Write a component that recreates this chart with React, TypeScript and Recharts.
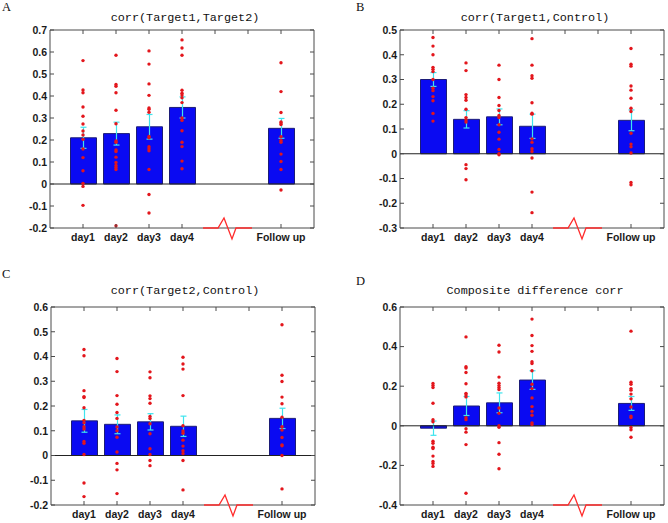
import React from "react";
import {
  Bar,
  ComposedChart,
  ErrorBar,
  ReferenceArea,
  ReferenceLine,
  Scatter,
  XAxis,
  YAxis,
} from "recharts";

// x positions of the groups (5 and 6 are the gap before follow up)
const POSITIONS = [1, 2, 3, 4, 7];
const X_TICKS = [1, 2, 3, 4, 5, 6, 7];
const X_LABELS: Record<number, string> = {
  1: "day1",
  2: "day2",
  3: "day3",
  4: "day4",
  7: "Follow up",
};

// A: corr(Target1,Target2)
const aMeans = [0.21, 0.229, 0.26, 0.348, 0.253];
const aSems = [0.048, 0.052, 0.056, 0.048, 0.045];
const aDots = [
  [0.561, 0.427, 0.415, 0.35, 0.308, 0.273, 0.241, 0.223, 0.203, 0.159, 0.12, 0.06, 0.003, -0.011, -0.097],
  [0.585, 0.452, 0.444, 0.415, 0.335, 0.274, 0.196, 0.19, 0.155, 0.148, 0.122, 0.098, 0.084, 0.075, 0.066, -0.19],
  [0.605, 0.545, 0.455, 0.403, 0.346, 0.34, 0.326, 0.216, 0.21, 0.169, 0.16, 0.151, 0.066, -0.048, -0.132],
  [0.655, 0.618, 0.585, 0.426, 0.413, 0.404, 0.392, 0.37, 0.3, 0.289, 0.242, 0.19, 0.17, 0.104, 0.069],
  [0.551, 0.42, 0.325, 0.282, 0.277, 0.27, 0.215, 0.198, 0.19, 0.136, 0.102, 0.066, -0.027],
];
const aTicks = [-0.2, -0.1, 0, 0.1, 0.2, 0.3, 0.4, 0.5, 0.6, 0.7];

// B: corr(Target1,Control)
const bMeans = [0.3, 0.139, 0.149, 0.111, 0.135];
const bSems = [0.028, 0.035, 0.032, 0.049, 0.042];
const bDots = [
  [0.47, 0.435, 0.4, 0.349, 0.341, 0.332, 0.3, 0.265, 0.255, 0.231, 0.214, 0.163, 0.132],
  [0.367, 0.336, 0.239, 0.227, 0.216, 0.18, 0.146, 0.137, 0.128, -0.044, -0.06, -0.105],
  [0.358, 0.3, 0.227, 0.195, 0.175, 0.155, 0.146, 0.117, 0.087, 0.059, 0.017, 0.0, -0.004],
  [0.465, 0.358, 0.315, 0.305, 0.206, 0.164, 0.16, 0.06, 0.046, 0.02, 0.009, -0.017, -0.155, -0.238],
  [0.425, 0.362, 0.354, 0.274, 0.257, 0.224, 0.184, 0.171, 0.083, 0.039, 0.028, 0.003, -0.116, -0.125],
];
const bTicks = [-0.3, -0.2, -0.1, 0, 0.1, 0.2, 0.3, 0.4, 0.5];

// C: corr(Target2,Control)
const cMeans = [0.14, 0.126, 0.136, 0.118, 0.15];
const cSems = [0.046, 0.038, 0.033, 0.041, 0.041];
const cDots = [
  [0.428, 0.403, 0.262, 0.238, 0.234, 0.193, 0.142, 0.132, 0.116, 0.107, 0.057, 0.049, 0.004, -0.111, -0.166],
  [0.392, 0.339, 0.242, 0.207, 0.174, 0.15, 0.115, 0.1, 0.074, 0.014, -0.032, -0.058, -0.154],
  [0.338, 0.314, 0.241, 0.23, 0.211, 0.158, 0.149, 0.128, 0.088, 0.027, 0.004, -0.02, -0.041],
  [0.397, 0.37, 0.349, 0.242, 0.12, 0.099, 0.09, 0.062, 0.038, 0.019, 0.008, -0.02, -0.139],
  [0.528, 0.324, 0.299, 0.236, 0.209, 0.155, 0.116, 0.103, 0.073, 0.043, 0.039, 0.0, -0.135],
];
const cTicks = [-0.2, -0.1, 0, 0.1, 0.2, 0.3, 0.4, 0.5, 0.6];

// D: Composite difference corr
const dMeans = [-0.012, 0.1, 0.116, 0.231, 0.113];
const dSems = [0.036, 0.048, 0.05, 0.047, 0.035];
const dDots = [
  [0.214, 0.203, 0.193, 0.114, 0.031, 0.02, -0.078, -0.088, -0.108, -0.115, -0.153, -0.18, -0.19, -0.205],
  [0.449, 0.298, 0.292, 0.269, 0.212, 0.164, 0.156, 0.146, 0.041, 0.031, -0.015, -0.032, -0.095, -0.341],
  [0.407, 0.373, 0.246, 0.215, 0.203, 0.193, 0.183, 0.09, 0.063, 0.0, -0.007, -0.085, -0.144, -0.217],
  [0.539, 0.456, 0.405, 0.376, 0.324, 0.315, 0.278, 0.21, 0.188, 0.141, 0.097, 0.073, 0.053, 0.015, 0.007],
  [0.478, 0.22, 0.21, 0.188, 0.18, 0.16, 0.136, 0.095, 0.049, 0.042, -0.008, -0.02, -0.058],
];
const dTicks = [-0.4, -0.2, 0, 0.2, 0.4, 0.6];

const PANEL_W = 334;
const PANEL_H = 261;
const PLOT_W = 264;
const PLOT_H = 198;
const TICK_IN = 4;
const X_GAP = 5;
const Y_GAP = 3;
const FRAME = "#4a4a4a";
const TICK_FONT = {
  fontFamily: "'Liberation Sans', Arial, sans-serif",
  fontSize: 10.5,
  fontWeight: 700,
  fill: "#1a1a1a",
};

// bottom labels plus the inward tick marks on bottom and top edges
function BottomTick(props: any) {
  const { x, y, payload } = props;
  const v = payload.value;
  const y0 = y - X_GAP; // bottom edge of the plot
  const topTick = (
    <line x1={x} x2={x} y1={y0 - PLOT_H} y2={y0 - PLOT_H + TICK_IN} stroke={FRAME} />
  );
  if (v === 5) {
    // axis break mark drawn over the bottom edge
    return (
      <g>
        {topTick}
        <path
          d={`M${x - 12},${y0} h15 l6,-10 l8,21 l4,-11 h16`}
          stroke="#ff2b2b"
          strokeWidth={1.3}
          fill="none"
        />
      </g>
    );
  }
  const label = X_LABELS[v];
  return (
    <g>
      {topTick}
      {label && <line x1={x} x2={x} y1={y0} y2={y0 - TICK_IN} stroke={FRAME} />}
      {label && (
        <text x={x} y={y} dy="0.72em" textAnchor="middle" {...TICK_FONT}>
          {label}
        </text>
      )}
    </g>
  );
}

// left labels plus the inward tick marks on left and right edges
function LeftTick(props: any) {
  const { x, y, payload } = props;
  const v: number = payload.value;
  const x0 = x + Y_GAP; // left edge of the plot
  return (
    <g>
      <line x1={x0} x2={x0 + TICK_IN} y1={y} y2={y} stroke={FRAME} />
      <line x1={x0 + PLOT_W - TICK_IN} x2={x0 + PLOT_W} y1={y} y2={y} stroke={FRAME} />
      <text x={x} y={y} dy="0.36em" textAnchor="end" {...TICK_FONT}>
        {Math.abs(v) < 1e-9 ? "0" : v.toFixed(1)}
      </text>
    </g>
  );
}

function Dot(props: any) {
  const { cx, cy } = props;
  if (cx == null || cy == null) return null;
  return <circle cx={cx} cy={cy} r={1.7} fill="#e3161c" />;
}

interface PanelProps {
  means: number[];
  sems: number[];
  dots: number[][];
  ticks: number[];
  left: number;
  top: number;
}

function Panel({ means, sems, dots, ticks, left, top }: PanelProps) {
  const bars = POSITIONS.map((x, i) => ({ x, mean: means[i], sem: sems[i] }));
  const points = dots.flatMap((vals, i) => vals.map((y) => ({ x: POSITIONS[i], y })));
  const lo = ticks[0];
  const hi = ticks[ticks.length - 1];
  return (
    <ComposedChart
      width={PANEL_W}
      height={PANEL_H}
      data={bars}
      margin={{ top, left: 0, right: PANEL_W - left - PLOT_W, bottom: 0 }}
    >
      <XAxis
        dataKey="x"
        type="number"
        domain={[0, 8]}
        ticks={X_TICKS}
        interval={0}
        height={PANEL_H - top - PLOT_H}
        axisLine={false}
        tickLine={false}
        tickSize={0}
        tickMargin={X_GAP}
        tick={<BottomTick />}
      />
      <YAxis
        type="number"
        domain={[lo, hi]}
        ticks={ticks}
        interval={0}
        width={left}
        axisLine={false}
        tickLine={false}
        tickSize={0}
        tickMargin={Y_GAP}
        tick={<LeftTick />}
      />
      <ReferenceArea x1={0} x2={8} y1={lo} y2={hi} fill="none" stroke={FRAME} strokeWidth={1} />
      <Bar
        dataKey="mean"
        barSize={26}
        fill="#0a0af2"
        stroke="#1c1c78"
        strokeWidth={1}
        isAnimationActive={false}
      >
        <ErrorBar dataKey="sem" width={3} stroke="#3ee4ee" strokeWidth={1.2} direction="y" />
      </Bar>
      <ReferenceLine y={0} stroke="#222" strokeWidth={1} />
      <Scatter data={points} dataKey="y" shape={<Dot />} isAnimationActive={false} />
    </ComposedChart>
  );
}

const TITLE_FONT = "'Liberation Mono', 'Courier New', monospace";
const LETTER_FONT = "'Liberation Serif', 'Times New Roman', serif";

export default function App() {
  const cell = (x: number, y: number): React.CSSProperties => ({
    position: "absolute",
    left: x,
    top: y,
  });
  return (
    <div style={{ position: "absolute", left: 0, top: 0, width: 668, height: 523, background: "#fff" }}>
      <div style={cell(0, 0)}>
        <Panel means={aMeans} sems={aSems} dots={aDots} ticks={aTicks} left={50} top={30} />
      </div>
      <div style={cell(334, 0)}>
        <Panel means={bMeans} sems={bSems} dots={bDots} ticks={bTicks} left={66} top={30} />
      </div>
      <div style={cell(0, 262)}>
        <Panel means={cMeans} sems={cSems} dots={cDots} ticks={cTicks} left={51} top={45} />
      </div>
      <div style={cell(334, 262)}>
        <Panel means={dMeans} sems={dSems} dots={dDots} ticks={dTicks} left={66} top={45} />
      </div>
      <svg
        width={668}
        height={523}
        style={{ position: "absolute", left: 0, top: 0, pointerEvents: "none" }}
      >
        <g fontFamily={TITLE_FONT} fontSize={11.8} fill="#111" textAnchor="middle">
          <text x={185} y={21}>corr(Target1,Target2)</text>
          <text x={535} y={21}>corr(Target1,Control)</text>
          <text x={185} y={294}>corr(Target2,Control)</text>
          <text x={535} y={294}>Composite difference corr</text>
        </g>
        <g fontFamily={LETTER_FONT} fontSize={12.5} fill="#111">
          <text x={2} y={11}>A</text>
          <text x={356} y={11}>B</text>
          <text x={2} y={278}>C</text>
          <text x={356} y={285}>D</text>
        </g>
      </svg>
    </div>
  );
}
